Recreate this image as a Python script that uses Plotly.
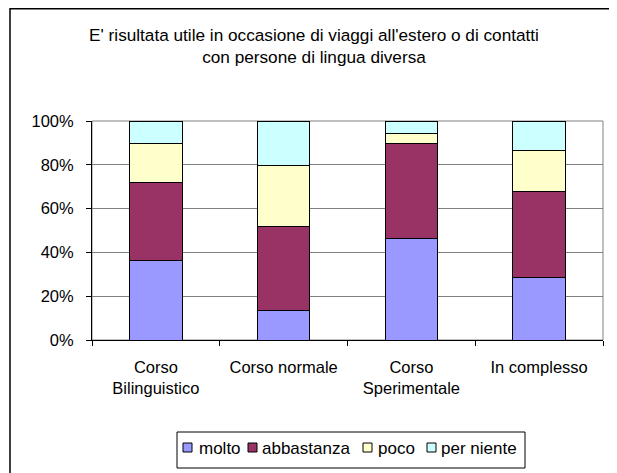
import plotly.graph_objects as go

categories = ["Corso<br>Bilinguistico", "Corso normale", "Corso<br>Sperimentale", "In complesso"]
molto = [0.362, 0.134, 0.464, 0.284]
abbastanza = [0.355, 0.386, 0.433, 0.392]
poco = [0.180, 0.275, 0.048, 0.189]
per_niente = [0.103, 0.205, 0.055, 0.135]

names = ["molto", "abbastanza", "poco", "per niente"]
values = [molto, abbastanza, poco, per_niente]
colors = ["#9999FF", "#993366", "#FFFFCC", "#CCFFFF"]

font = "Liberation Sans, Arial, sans-serif"
FS = 16.5
# page has an 8px body margin, so the figure is a bit smaller than the window
W, H = 609, 465
L, R, T, B = 84, 14, 113, 133
pw, ph = W - L - R, H - T - B


def px(x):
    return (x - L) / pw


def py(y):
    return (T + ph - y) / ph


fig = go.Figure()
for name, vals, col in zip(names, values, colors):
    fig.add_trace(go.Bar(
        x=categories, y=vals, name=name,
        marker=dict(color=col, line=dict(color="black", width=1)),
    ))

fig.update_layout(
    width=W, height=H,
    barmode="stack", bargap=0.59,
    margin=dict(l=L, r=R, t=T, b=B),
    paper_bgcolor="white", plot_bgcolor="white",
    font=dict(family=font, size=FS, color="black"),
    title=dict(
        text="E' risultata utile in occasione di viaggi all'estero o di contatti<br>con persone di lingua diversa",
        xref="container", x=306 / W, xanchor="center",
        yref="container", y=1 - 33 / H, yanchor="middle",
        font=dict(size=17.2),
    ),
    showlegend=False,
)
fig.update_xaxes(
    showline=True, linecolor="black", linewidth=1,
    ticks="outside", tickson="boundaries", ticklen=5, tickcolor="black",
    showgrid=False, tickfont=dict(size=FS), ticklabelstandoff=12,
)
fig.update_yaxes(
    range=[0, 1], dtick=0.2, tickformat=".0%",
    showline=True, linecolor="black", linewidth=1,
    ticks="outside", ticklen=5, tickcolor="black",
    showgrid=True, gridcolor="#808080", gridwidth=1,
    tickfont=dict(size=FS), zeroline=False, ticklabelstandoff=9,
)

# gray plot-area frame
fig.add_shape(type="rect", xref="paper", yref="paper", x0=0, y0=0, x1=1, y1=1,
              line=dict(color="#808080", width=1), layer="below")
# chart-area border (runs past the right and bottom of the window)
fig.add_shape(type="rect", xref="paper", yref="paper",
              x0=px(2), y0=py(H + 5), x1=px(W + 5), y1=py(0.75),
              line=dict(color="black", width=1.5))

# legend box drawn by hand to get the compact Excel look
fig.add_shape(type="rect", xref="paper", yref="paper",
              x0=px(169), y0=py(460), x1=px(517), y1=py(424),
              line=dict(color="black", width=1), fillcolor="white")
sq_x = [175, 240, 355, 419]
txt_x = [189, 252, 368, 431]
for name, col, sx, tx in zip(names, colors, sq_x, txt_x):
    fig.add_shape(type="rect", xref="paper", yref="paper",
                  x0=px(sx), y0=py(444), x1=px(sx + 9), y1=py(435),
                  line=dict(color="black", width=1), fillcolor=col)
    fig.add_annotation(text=name, xref="paper", yref="paper",
                       x=px(tx), y=py(440), xanchor="left", yanchor="middle",
                       showarrow=False, font=dict(size=17))

fig.write_html("out.html")
